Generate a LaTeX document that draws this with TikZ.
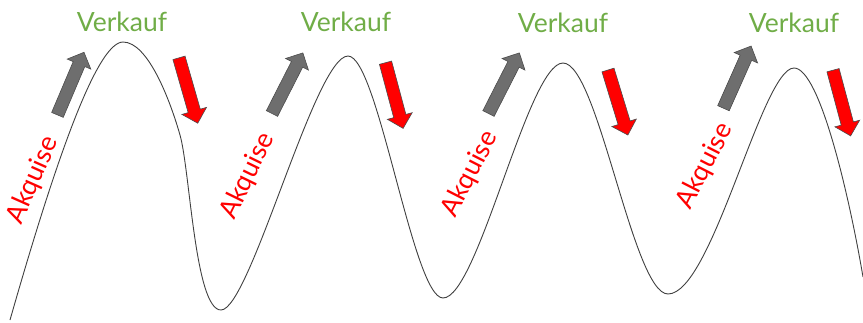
\documentclass[tikz,border=0pt]{standalone}
\usepackage{fontspec}
\setmainfont{Lato}
\usetikzlibrary{shapes.arrows}
\definecolor{vgreen}{HTML}{70AD47}
\definecolor{agrey}{HTML}{6E6E6E}
\tikzset{
  wave/.style={draw=black!75, line width=0.9pt},
  sell/.style={text=vgreen, font=\fontsize{26.5}{30}\selectfont, inner sep=0pt},
  acq/.style={text=red, font=\fontsize{26.5}{30}\selectfont, inner sep=0pt},
  blockarrow/.style={shape=single arrow, draw=black!70, line width=0.6pt,
    minimum height=68pt, inner sep=6pt, single arrow head extend=6.5pt,
    single arrow head indent=0pt},
  uparrow/.style={blockarrow, fill=agrey},
  downarrow/.style={blockarrow, fill=red}
}
\begin{document}
\begin{tikzpicture}[x=1pt,y=-1pt]
\useasboundingbox (0,0) rectangle (863,322);
\coordinate (s0) at (10,320);
\coordinate (p1) at (123,42);
\coordinate (h1) at (180,135);
\coordinate (t1) at (221,310);
\coordinate (p2) at (348,56);
\coordinate (t2) at (443,298);
\coordinate (p3) at (563,63);
\coordinate (t3) at (668,294);
\coordinate (p4) at (794,68);
\coordinate (e0) at (863,277);
\draw[wave] (s0) .. controls (50,180) and (95,42) .. (p1)
  .. controls (148,42) and (170,100) .. (h1)
  .. controls (190,170) and (195,310) .. (t1)
  .. controls (250,310) and (315,56) .. (p2)
  .. controls (378,56) and (413,298) .. (t2)
  .. controls (478,298) and (528,63) .. (p3)
  .. controls (598,63) and (633,294) .. (t3)
  .. controls (712,294) and (762,68) .. (p4)
  .. controls (820,68) and (850,200) .. (e0);
% labels
\node[sell] (v1) at (122,22) {Verkauf};
\node[sell] (v2) at (346,22) {Verkauf};
\node[sell] (v3) at (563,23) {Verkauf};
\node[sell] (v4) at (794,23) {Verkauf};
\node[acq, rotate=66] (a1) at (33,180) {Akquise};
\node[acq, rotate=64] (a2) at (248,176) {Akquise};
\node[acq, rotate=63] (a3) at (470,174) {Akquise};
\node[acq, rotate=63] (a4) at (705,166) {Akquise};
% arrows
\node[uparrow, rotate=67] (g1) at (69.5,86.5) {};
\node[uparrow, rotate=63] (g2) at (286,86) {};
\node[uparrow, rotate=63] (g3) at (502.5,86) {};
\node[uparrow, rotate=66] (g4) at (736,80) {};
\node[downarrow, rotate=-74] (r1) at (187.5,87.5) {};
\node[downarrow, rotate=-75] (r2) at (393.5,92.5) {};
\node[downarrow, rotate=-73] (r3) at (617,99.5) {};
\node[downarrow, rotate=-75] (r4) at (841,100) {};
\end{tikzpicture}
\end{document}
